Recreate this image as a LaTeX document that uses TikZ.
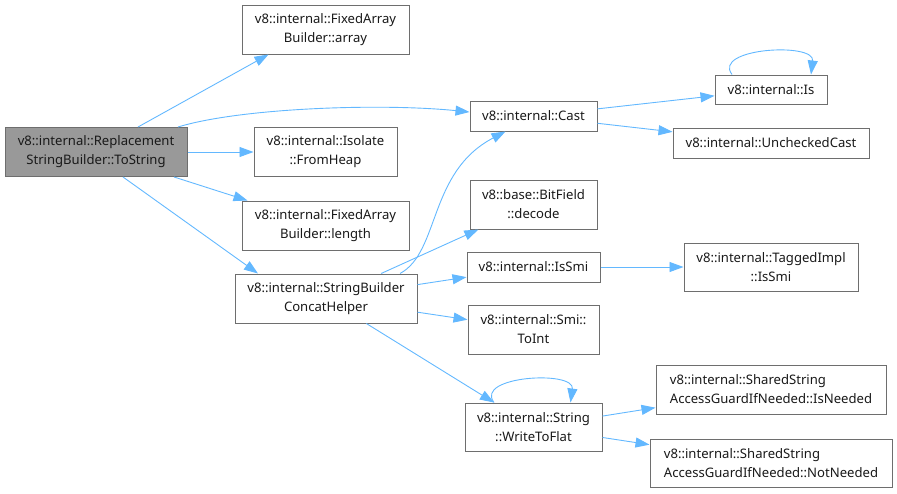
\documentclass[tikz,border=0pt]{standalone}
\usepackage{fontspec}
\setmainfont{Noto Sans}
\usetikzlibrary{arrows.meta,positioning}
\definecolor{myedge}{RGB}{99,184,255}
\definecolor{mybox}{RGB}{110,110,110}
\definecolor{myroot}{RGB}{153,153,153}

\begin{document}
\begin{tikzpicture}[x=1pt,y=-1pt,
  fn/.style={rectangle,draw=mybox,line width=1pt,fill=white,align=center,
             font=\fontsize{13.1}{19}\selectfont,inner sep=0pt,text=black!90},
  call/.style={draw=myedge,line width=0.9pt,-{Triangle[length=14pt,width=10pt]}}]
\useasboundingbox (0,0) rectangle (897,493);

\node[fn,fill=myroot,minimum width=182pt,minimum height=49pt] (root) at (96,152)
  {v8::internal::Replacement\\StringBuilder::ToString};

\node[fn,minimum width=167pt,minimum height=49pt] (arr) at (325.5,29.5)
  {v8::internal::FixedArray\\Builder::array};
\node[fn,minimum width=143pt,minimum height=49pt] (heap) at (325.5,152)
  {v8::internal::Isolate\\::FromHeap};
\node[fn,minimum width=167pt,minimum height=49pt] (len) at (325.5,225.5)
  {v8::internal::FixedArray\\Builder::length};
\node[fn,minimum width=182pt,minimum height=49pt] (concat) at (326,298.5)
  {v8::internal::StringBuilder\\ConcatHelper};

\node[fn,minimum width=127pt,minimum height=30pt] (cast) at (533.5,116)
  {v8::internal::Cast};
\node[fn,minimum width=127pt,minimum height=49pt] (decode) at (533.5,204.5)
  {v8::base::BitField\\::decode};
\node[fn,minimum width=133pt,minimum height=30pt] (issmi) at (533.5,267)
  {v8::internal::IsSmi};
\node[fn,minimum width=131pt,minimum height=49pt] (toint) at (533.5,329.5)
  {v8::internal::Smi::\\ToInt};
\node[fn,minimum width=137pt,minimum height=48pt] (flat) at (533.5,427)
  {v8::internal::String\\::WriteToFlat};

\node[fn,minimum width=112pt,minimum height=29pt] (is) at (771,89.5)
  {v8::internal::Is};
\node[fn,minimum width=196pt,minimum height=30pt] (unch) at (771,143)
  {v8::internal::UncheckedCast};
\node[fn,minimum width=174pt,minimum height=48pt] (tagged) at (771,267)
  {v8::internal::TaggedImpl\\::IsSmi};
\node[fn,align=left,minimum width=230pt,minimum height=49pt] (isneed) at (771,389.5)
  {v8::internal::SharedString\\AccessGuardIfNeeded::IsNeeded};
\node[fn,align=left,minimum width=242pt,minimum height=48pt] (notneed) at (771,463)
  {v8::internal::SharedString\\AccessGuardIfNeeded::NotNeeded};

\draw[call] ([xshift=42pt]root.north) -- ([xshift=-57pt]arr.south);
\draw[call] ([xshift=82pt]root.north) .. controls (240,108) and (380,103) .. ([yshift=4pt]cast.west);
\draw[call] (root) -- (heap);
\draw[call] (root) -- (len);
\draw[call] ([xshift=27pt]root.south) -- ([xshift=-68pt]concat.north);

\draw[call] ([xshift=74pt]concat.north) .. controls (440,252) and (428,172) .. ([xshift=-28pt]cast.south);
\draw[call] (concat) -- (decode);
\draw[call] (concat) -- (issmi);
\draw[call] (concat) -- (toint);
\draw[call] (concat) -- (flat);

\draw[call] (cast) -- (is);
\draw[call] (cast) -- (unch);
\draw[call] ([xshift=-39pt]is.north) .. controls (712,48) and (815,42) .. ([xshift=40pt]is.north);
\draw[call] (issmi) -- (tagged);
\draw[call] ([xshift=-39.5pt]flat.north) .. controls (474,376) and (575,370) .. ([xshift=37pt]flat.north);
\draw[call] (flat) -- (isneed);
\draw[call] (flat) -- (notneed);
\end{tikzpicture}
\end{document}
